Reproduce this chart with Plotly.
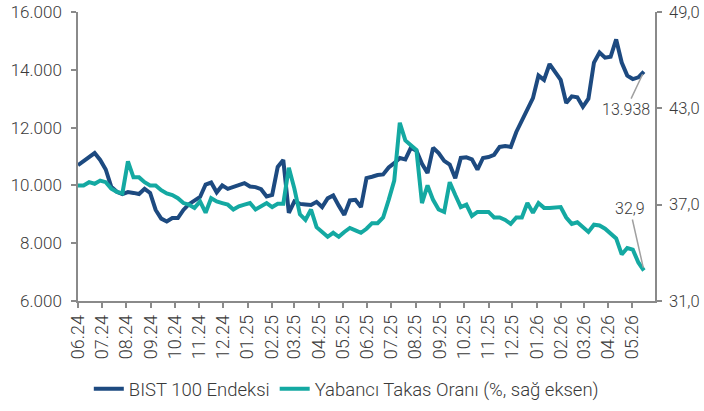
import datetime as dt
import plotly.graph_objects as go

start = dt.date(2024, 6, 1)
bist = [10700, 10830, 10970, 11120, 10880, 10550, 9950, 9780, 9700, 9770,
        9740, 9700, 9880, 9740, 9150, 8850, 8750, 8870, 8870, 9150,
        9350, 9480, 9600, 10030, 10100, 9760, 10000, 9880, 9950, 10020,
        10080, 9960, 9940, 9870, 9620, 9670, 10640, 10880, 9050, 9450,
        9360, 9340, 9320, 9430, 9250, 9550, 9650, 9300, 8980, 9480,
        9500, 9250, 10250, 10300, 10360, 10380, 10620, 10770, 10950, 10900,
        11300, 11200, 10750, 10430, 11300, 11120, 10850, 10720, 10250, 10950,
        10970, 10900, 10550, 10950, 10980, 11060, 11330, 11360, 11330, 11850,
        12250, 12650, 13020, 13800, 13650, 14200, 13950, 13650, 12850, 13080,
        13050, 12720, 13000, 14250, 14600, 14420, 14450, 15050, 14250, 13800,
        13680, 13740, 13938]
takas = [38.2, 38.2, 38.4, 38.3, 38.5, 38.4, 38.0, 37.8, 37.7, 39.7,
         38.7, 38.7, 38.4, 38.2, 38.2, 37.9, 37.7, 37.6, 37.4, 37.1,
         37.0, 36.8, 37.2, 36.5, 37.4, 37.2, 37.1, 37.0, 36.7, 36.9,
         37.0, 37.1, 36.7, 36.9, 37.1, 36.85, 37.05, 37.05, 39.3, 38.0,
         36.4, 36.05, 36.7, 35.6, 35.3, 35.0, 35.25, 35.0, 35.3, 35.55,
         35.4, 35.25, 35.5, 35.85, 35.85, 36.2, 37.3, 38.5, 42.1, 41.0,
         40.7, 40.4, 37.1, 38.2, 37.3, 36.7, 36.55, 38.4, 37.6, 36.85,
         37.0, 36.3, 36.55, 36.55, 36.55, 36.2, 36.2, 36.05, 35.8, 36.2,
         36.2, 37.1, 36.5, 37.1, 36.8, 36.8, 36.8, 36.85, 36.2, 35.8,
         35.9, 35.6, 35.3, 35.75, 35.7, 35.5, 35.2, 34.9, 33.9, 34.3,
         34.2, 33.4, 32.9]
dates = [start + dt.timedelta(weeks=i) for i in range(len(bist))]

left_ticks = [6000, 8000, 10000, 12000, 14000, 16000]
right_ticks = [31, 37, 43, 49]
right_labels = ["31,0", "37,0", "43,0", "49,0"]

name_bist = "BIST 100 Endeksi"
name_takas = "Yabancı Takas Oranı (%, sağ eksen)"
label_bist = "13.938"
label_takas = "32,9"

BLUE = "#1d4a80"
TEAL = "#14a9a2"
AXIS = "#8a8a8a"
TXT = "#3a3a3a"
FONT = "Roboto"
W = 300

fig = go.Figure()
fig.add_trace(go.Scatter(x=dates, y=bist, name=name_bist, mode="lines",
                         line=dict(color=BLUE, width=4)))
fig.add_trace(go.Scatter(x=dates, y=takas, name=name_takas, mode="lines",
                         line=dict(color=TEAL, width=4), yaxis="y2"))

fig.add_annotation(x=dates[-1], y=bist[-1], text=label_bist, showarrow=True,
                   arrowhead=0, arrowwidth=1.5, arrowcolor="#a0a0a0",
                   ax=-18, ay=38, standoff=3,
                   font=dict(family=FONT, size=16, color=TXT, weight=W))
fig.add_annotation(x=dates[-1], y=takas[-1], text=label_takas, yref="y2",
                   showarrow=True, arrowhead=0, arrowwidth=1.5, arrowcolor="#a0a0a0",
                   ax=-14, ay=-62, standoff=3,
                   font=dict(family=FONT, size=16, color=TXT, weight=W))

axcommon = dict(ticks="outside", ticklen=5, tickcolor=AXIS, tickwidth=1.5,
                showline=True, linecolor=AXIS, linewidth=1.5, showgrid=False,
                zeroline=False, automargin=False)

fig.update_layout(
    width=704, height=411,
    margin=dict(l=78, r=49, t=12, b=110, autoexpand=False),
    paper_bgcolor="white", plot_bgcolor="white",
    separators=",.",
    font=dict(family=FONT, size=16, color=TXT, weight=W),
    showlegend=True,
    legend=dict(orientation="h", x=0.465, xanchor="center", y=-0.305, yanchor="middle",
                font=dict(family=FONT, size=18.5, color=TXT, weight=W), itemwidth=30,
                tracegroupgap=0),
    xaxis=dict(type="date", range=["2024-06-01", "2026-05-30"],
               tick0="2024-06-01", dtick="M1", tickformat="%m.%y",
               tickangle=-90, tickfont=dict(family=FONT, size=18, color=TXT, weight=W),
               **axcommon),
    yaxis=dict(range=[6000, 16000], tickvals=left_ticks, tickformat=",.0f",
               tickfont=dict(family=FONT, size=17, color=TXT, weight=W),
               ticklabelstandoff=6, **axcommon),
    yaxis2=dict(range=[31, 49], tickvals=right_ticks, ticktext=right_labels,
                overlaying="y", side="right",
                tickfont=dict(family=FONT, size=16.5, color=TXT, weight=W),
                ticklabelstandoff=4, **axcommon),
)

fig.write_html("out.html", config={"displayModeBar": False},
               post_script="document.body.style.margin='0';document.body.style.overflow='hidden';")
